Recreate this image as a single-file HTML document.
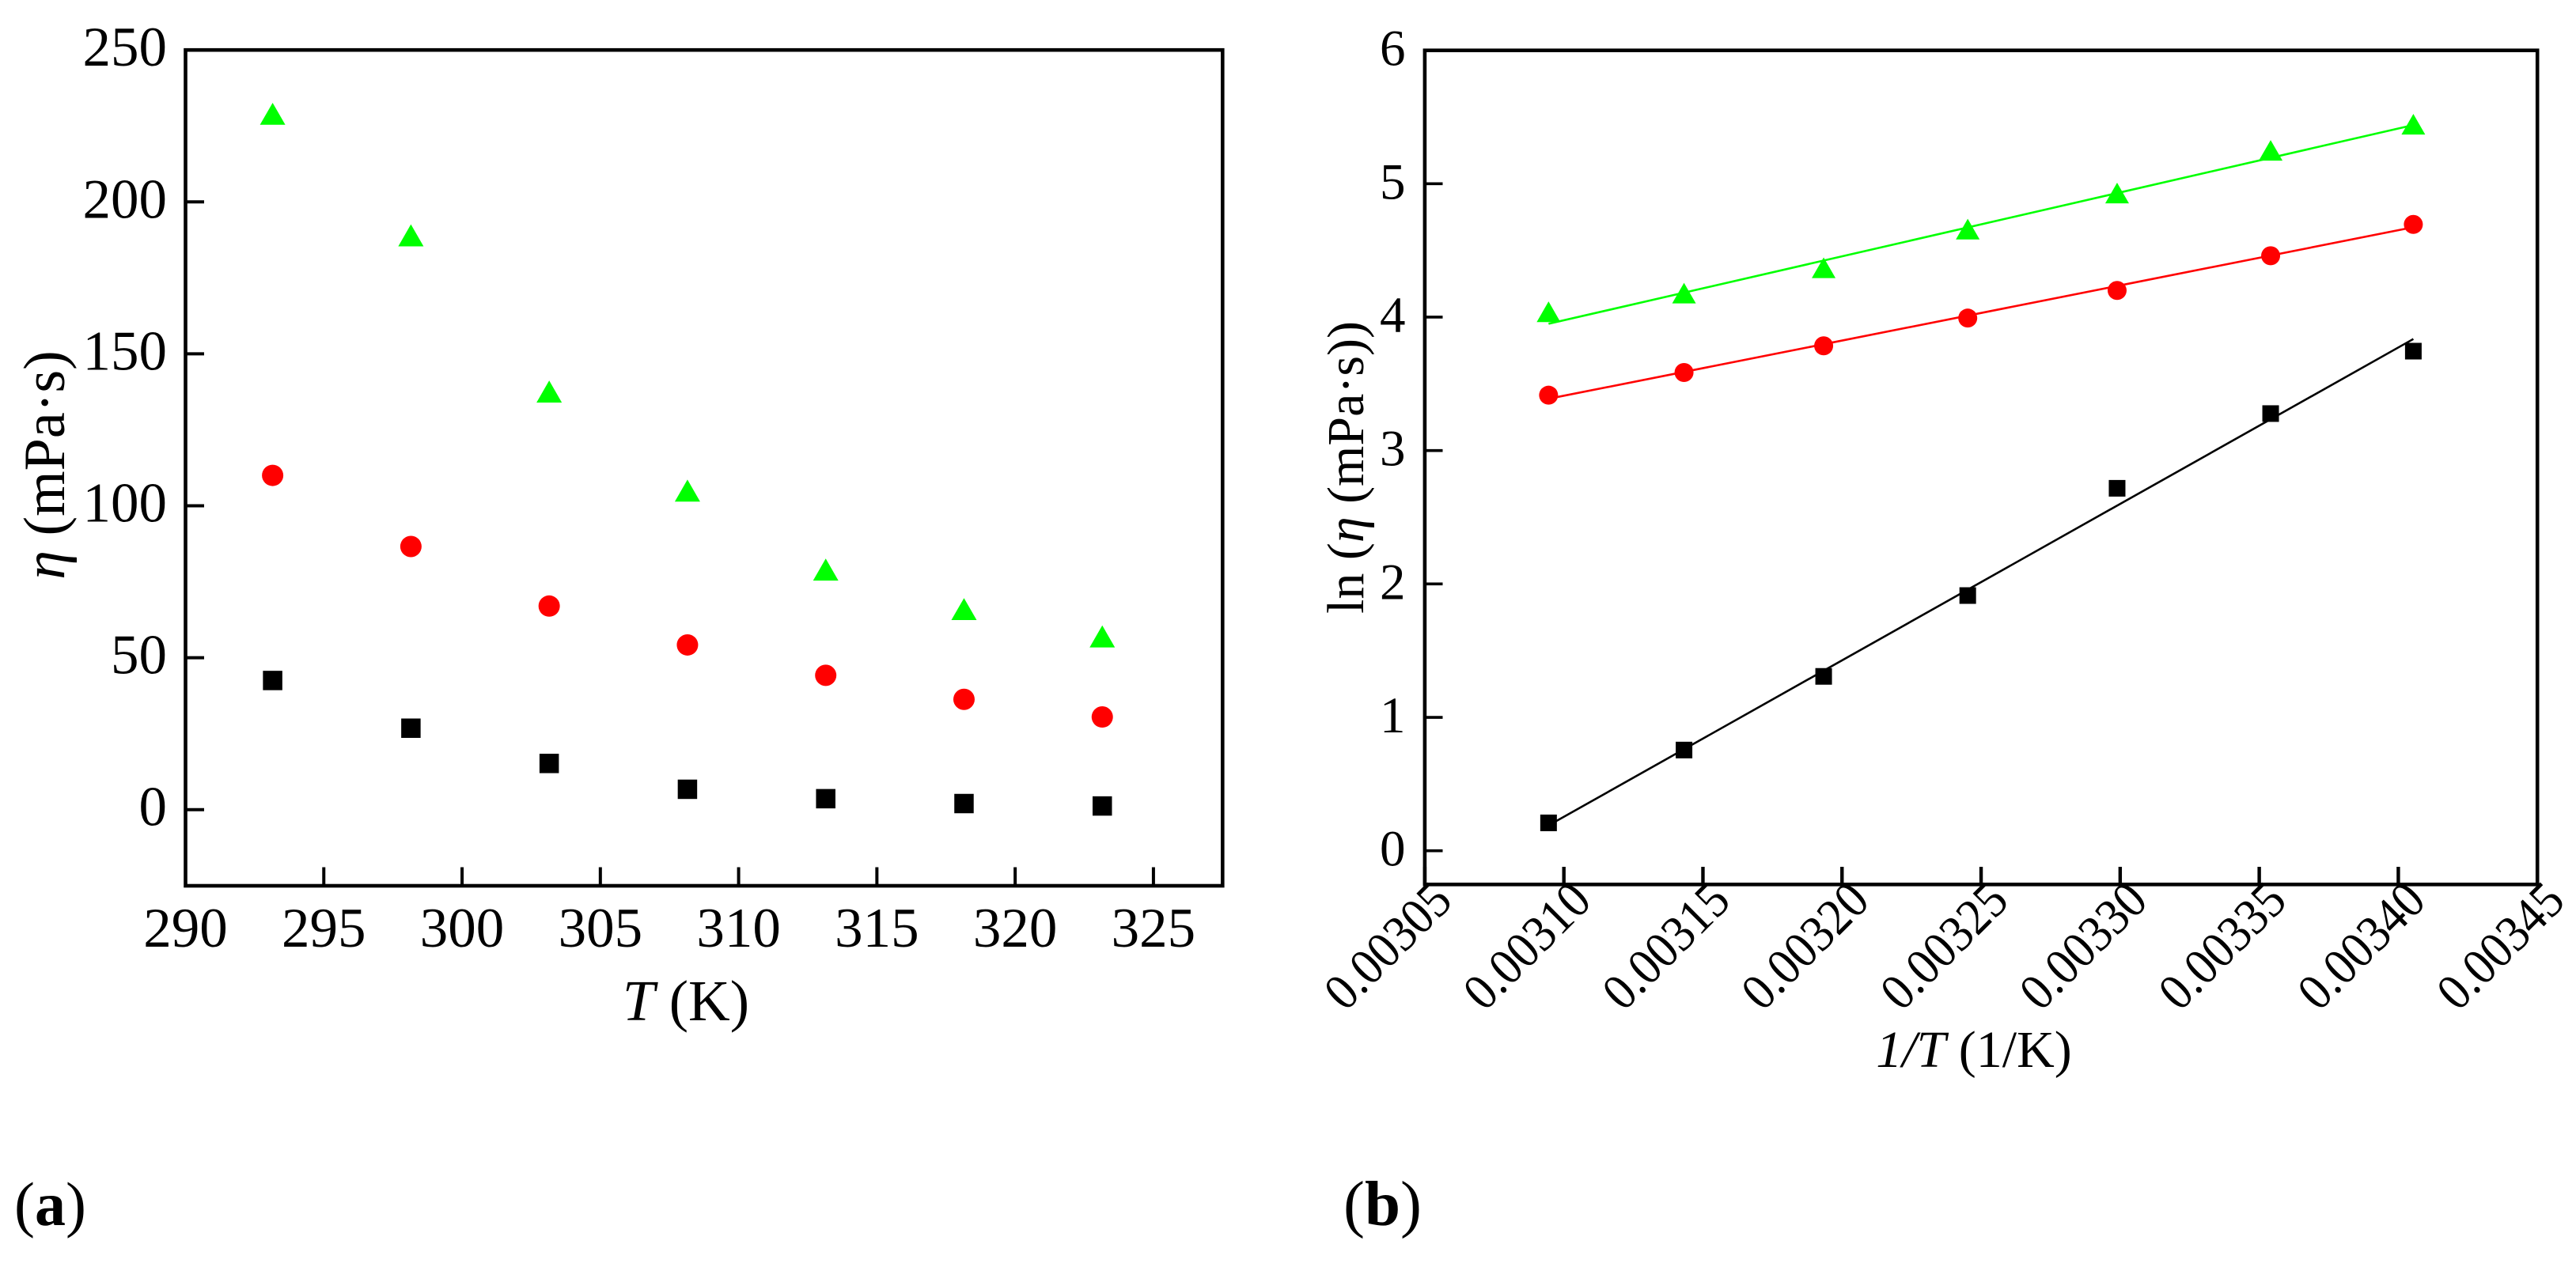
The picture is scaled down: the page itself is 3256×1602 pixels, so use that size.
<!DOCTYPE html>
<html lang="en">
<head>
<meta charset="utf-8">
<title>Viscosity vs temperature</title>
<style>
html,body{margin:0;padding:0;background:#fff;width:3256px;height:1602px;overflow:hidden}
svg{display:block}
text{font-family:"Liberation Serif","Times New Roman",serif;fill:#000}
</style>
</head>
<body>
<svg id="figure" xmlns="http://www.w3.org/2000/svg" width="3256" height="1602" viewBox="0 0 3256 1602">
  <rect width="3256" height="1602" fill="#fff"/>
  <g id="panel-a"></g>
  <g id="panel-b"></g>

  <text x="867" y="1290" font-size="73" text-anchor="middle"><tspan font-style="italic">T</tspan> (K)</text>
  <text transform="translate(81 588) rotate(-90)" font-size="74" text-anchor="middle"><tspan font-style="italic">η</tspan> (mPa·s)</text>
  <text x="18" y="1549" font-size="78">(<tspan font-weight="bold">a</tspan>)</text>

  <text x="2495" y="1349" font-size="66" text-anchor="middle"><tspan font-style="italic">1/T</tspan> (1/K)</text>
  <text transform="translate(1723 591) rotate(-90)" font-size="66" text-anchor="middle">ln (<tspan font-style="italic">η</tspan> (mPa·s))</text>
  <text x="1698" y="1549" font-size="81">(<tspan font-weight="bold">b</tspan>)</text>
</svg>
<script>
// ---- Panel A data ----
const tempK = [293.15, 298.15, 303.15, 308.15, 313.15, 318.15, 323.15];
const etaGreen = [229, 189, 137.6, 105, 79, 66, 57];
const etaRed = [110, 86.6, 67, 54.2, 44.2, 36.3, 30.5];
const etaBlack = [42.5, 26.8, 15.2, 6.7, 3.6, 2, 1.2];
const aXTicks = [290, 295, 300, 305, 310, 315, 320, 325];
const aYTicks = [0, 50, 100, 150, 200, 250];

// ---- Panel B data ----
const invT = [0.0030945, 0.0031432, 0.0031934, 0.0032452, 0.0032989, 0.0033541, 0.0034054];
const lnGreen = [4.04, 4.18, 4.37, 4.66, 4.93, 5.25, 5.446];
const lnRed = [3.415, 3.585, 3.785, 3.993, 4.20, 4.46, 4.695];
const lnBlack = [0.209, 0.755, 1.307, 1.913, 2.717, 3.277, 3.745];
const fitX = [0.0030945, 0.0034054];
const fitGreen = [3.95, 5.44];
const fitRed = [3.388, 4.674];
const fitBlack = [0.19, 3.836];
const bXTicks = ["0.00305", "0.00310", "0.00315", "0.00320", "0.00325", "0.00330", "0.00335", "0.00340", "0.00345"];
const bYTicks = [0, 1, 2, 3, 4, 5, 6];

const NS = 'http://www.w3.org/2000/svg';
const GREEN = '#00ff00', RED = '#ff0000', BLACK = '#000000';

function make(tag, parent) {
  const el = document.createElementNS(NS, tag);
  parent.appendChild(el);
  return el;
}

function linear(d0, d1, r0, r1) {
  return function (v) { return r0 + (v - d0) * (r1 - r0) / (d1 - d0); };
}

function drawMarker(parent, shape, cx, cy, size, color, name) {
  let el;
  if (shape === 'square') {
    el = make('rect', parent);
    el.setAttribute('x', cx - size / 2);
    el.setAttribute('y', cy - size / 2);
    el.setAttribute('width', size);
    el.setAttribute('height', size);
  } else if (shape === 'circle') {
    el = make('circle', parent);
    el.setAttribute('cx', cx);
    el.setAttribute('cy', cy);
    el.setAttribute('r', size / 2);
  } else {
    el = make('polygon', parent);
    const h = size * 0.87;
    el.setAttribute('points', (cx - size / 2) + ',' + (cy + h / 2) + ' ' + (cx + size / 2) + ',' + (cy + h / 2) + ' ' + cx + ',' + (cy - h / 2));
  }
  el.setAttribute('fill', color);
  
  
}

function drawSeries(parent, xs, ys, xScale, yScale, shape, size, color, name) {
  const g = make('g', parent);
  
  
  xs.forEach(function (x, i) {
    drawMarker(g, shape, xScale(x), yScale(ys[i]), size, color, name + '-point-' + (i + 1));
  });
}

function drawFit(parent, xs, ys, xScale, yScale, color, name) {
  const line = make('line', parent);
  line.setAttribute('x1', xScale(xs[0]));
  line.setAttribute('y1', yScale(ys[0]));
  line.setAttribute('x2', xScale(xs[1]));
  line.setAttribute('y2', yScale(ys[1]));
  line.setAttribute('stroke', color);
  line.setAttribute('stroke-width', 2.6);
  
  
}

function drawFrame(parent, left, top, right, bottom) {
  const frame = make('rect', parent);
  frame.setAttribute('x', left);
  frame.setAttribute('y', top);
  frame.setAttribute('width', right - left);
  frame.setAttribute('height', bottom - top);
  frame.setAttribute('fill', 'none');
  frame.setAttribute('stroke', '#000');
  frame.setAttribute('stroke-width', 4.6);
  
  
}

function drawTick(parent, x1, y1, x2, y2, width, name) {
  const t = make('line', parent);
  t.setAttribute('x1', x1);
  t.setAttribute('y1', y1);
  t.setAttribute('x2', x2);
  t.setAttribute('y2', y2);
  t.setAttribute('stroke', '#000');
  t.setAttribute('stroke-width', width);
  
  
}

function drawLabel(parent, text, x, y, size, anchor, transform, name) {
  const t = make('text', parent);
  t.textContent = text;
  t.setAttribute('font-size', size);
  t.setAttribute('text-anchor', anchor);
  if (transform) {
    t.setAttribute('transform', 'translate(' + x + ' ' + y + ') ' + transform);
  } else {
    t.setAttribute('x', x);
    t.setAttribute('y', y);
  }
  
  
}

// ---- Panel A ----
(function () {
  const p = document.getElementById('panel-a');
  const L = 234.5, R = 1545.3, T = 63.2, B = 1120;
  const x = linear(290, 327.5, L, R);
  const y = linear(0, 250, 1023.7, T);
  drawFrame(p, L, T, R, B);
  aXTicks.forEach(function (v) {
    drawTick(p, x(v), B, x(v), 1096.5, 4, 'x-tick-' + v);
    drawLabel(p, String(v), x(v), 1197, 71, 'middle', '', 'x-tick-label-' + v);
  });
  aYTicks.forEach(function (v) {
    drawTick(p, L, y(v), 258, y(v), 4, 'y-tick-' + v);
    drawLabel(p, String(v), 211, y(v) + 20, 71, 'end', '', 'y-tick-label-' + v);
  });
  drawSeries(p, tempK, etaBlack, x, y, 'square', 24.5, BLACK, 'black-viscosity');
  drawSeries(p, tempK, etaRed, x, y, 'circle', 27, RED, 'red-viscosity');
  drawSeries(p, tempK, etaGreen, x, y, 'triangle', 32, GREEN, 'green-viscosity');
})();

// ---- Panel B ----
(function () {
  const p = document.getElementById('panel-b');
  const L = 1800.9, R = 3207.2, T = 63.7, B = 1118.3;
  const x = linear(0.00305, 0.00345, L, R);
  const y = linear(0, 5, 1075.7, 232.3);
  drawFrame(p, L, T, R, B);
  bXTicks.forEach(function (v) {
    const n = parseFloat(v);
    drawTick(p, x(n), B, x(n), 1096, 4.4, 'x-tick-' + v);
    drawLabel(p, v, x(n) + 37.4, 1142, 65, 'end', 'rotate(-45) scale(0.925 1)', 'x-tick-label-' + v);
  });
  bYTicks.forEach(function (v) {
    drawTick(p, L, y(v), 1823.5, y(v), 3.6, 'y-tick-' + v);
    drawLabel(p, String(v), 1776.5, y(v) + 19, 65, 'end', '', 'y-tick-label-' + v);
  });
  drawFit(p, fitX, fitBlack, x, y, BLACK, 'black-fit-line');
  drawFit(p, fitX, fitRed, x, y, RED, 'red-fit-line');
  drawFit(p, fitX, fitGreen, x, y, GREEN, 'green-fit-line');
  drawSeries(p, invT, lnBlack, x, y, 'square', 21, BLACK, 'black-ln-viscosity');
  drawSeries(p, invT, lnRed, x, y, 'circle', 24, RED, 'red-ln-viscosity');
  drawSeries(p, invT, lnGreen, x, y, 'triangle', 30, GREEN, 'green-ln-viscosity');
})();
</script>
</body>
</html>
